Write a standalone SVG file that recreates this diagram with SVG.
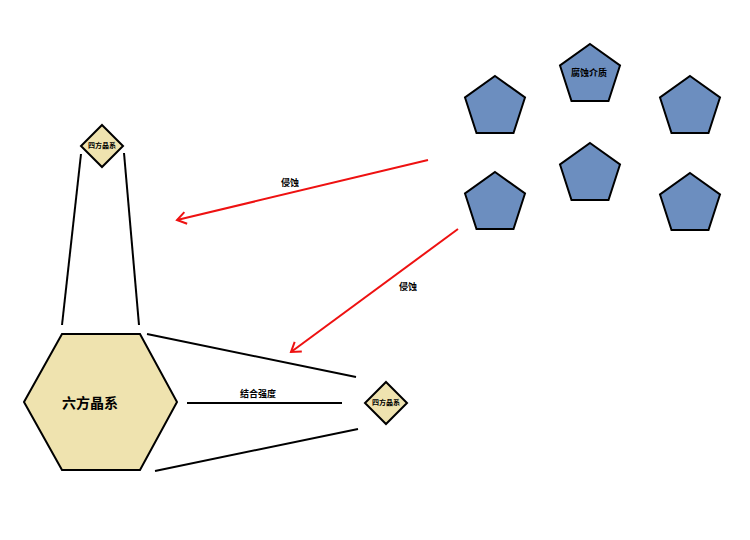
<svg xmlns="http://www.w3.org/2000/svg" width="750" height="540" viewBox="0 0 750 540">
<style>
.hex{fill:#EFE3AF;stroke:#000;stroke-width:2}
.dia{fill:#EFE3AF;stroke:#000;stroke-width:2}
.pent{fill:#6C8EBF;stroke:#000;stroke-width:2}
.ln{stroke:#000;stroke-width:2;fill:none}
.red{stroke:#EE1111;stroke-width:2;fill:none}
text{font-family:"Liberation Serif","Noto Sans CJK SC",serif;font-weight:bold;text-anchor:middle;dominant-baseline:central;fill:#000}
.s7{font-size:7px}
.s9{font-size:9px}
.s14{font-size:14px}
</style>
<defs>
<marker id="arr" markerUnits="userSpaceOnUse" markerWidth="14" markerHeight="14" refX="11" refY="7" orient="auto">
<path d="M2,1 L11,7 L2,13" fill="none" stroke="#EE1111" stroke-width="2"/>
</marker>
<polygon id="pg" points="0,0 30,21.5 18.5,57 -18.5,57 -30,21.5"/>
</defs>
<rect width="750" height="540" fill="#fff"/>
<g id="connectors">
<line class="ln" x1="81" y1="154" x2="62" y2="325"/>
<line class="ln" x1="124" y1="153" x2="139" y2="325"/>
<line class="ln" x1="147" y1="334" x2="356" y2="377"/>
<line class="ln" x1="187" y1="403" x2="342" y2="403"/>
<line class="ln" x1="155" y1="471" x2="358" y2="429"/>
<text class="s9" x="258" y="394">结合强度</text>
<line class="red" x1="428" y1="160" x2="177" y2="220" marker-end="url(#arr)"/>
<text class="s9" x="290" y="183">侵蚀</text>
<line class="red" x1="458" y1="229" x2="291" y2="352" marker-end="url(#arr)"/>
<text class="s9" x="408" y="287">侵蚀</text>
</g>
<g id="hexagon">
<polygon class="hex" points="24,402 62,334 140,334 177,402 140,470 62,470"/>
<text class="s14" x="90" y="403">六方晶系</text>
</g>
<g id="diamond-top">
<polygon class="dia" points="102,125 123,146 102,167 81,146"/>
<text class="s7" x="102" y="146">四方晶系</text>
</g>
<g id="diamond-right">
<polygon class="dia" points="386,382 407,403 386,424 365,403"/>
<text class="s7" x="386" y="403">四方晶系</text>
</g>
<g id="pent-medium">
<use href="#pg" class="pent" x="590" y="44"/>
<text class="s9" x="589" y="73">腐蚀介质</text>
</g>
<g id="pent-1"><use href="#pg" class="pent" x="495" y="76"/></g>
<g id="pent-2"><use href="#pg" class="pent" x="690" y="76"/></g>
<g id="pent-3"><use href="#pg" class="pent" x="590" y="143"/></g>
<g id="pent-4"><use href="#pg" class="pent" x="495" y="172"/></g>
<g id="pent-5"><use href="#pg" class="pent" x="690" y="173"/></g>
</svg>
